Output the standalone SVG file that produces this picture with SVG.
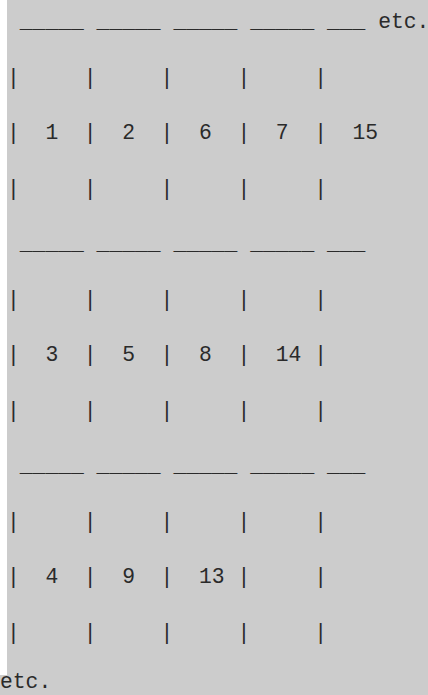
<svg xmlns="http://www.w3.org/2000/svg" width="428" height="695" viewBox="0 0 428 695">
<style>
.t{font-family:"Liberation Mono","Courier New",monospace;font-size:21.33px;fill:#2a2a2a;white-space:pre}
</style>
<rect x="0" y="0" width="428" height="695" fill="#cccccc"/>
<rect x="0" y="0" width="7" height="675" fill="#ffffff"/>
<g id="grid" xml:space="preserve">
<text class="t" x="7" y="28"> _____ _____ _____ _____ ___ etc.</text>
<text class="t" x="7" y="83.5">|     |     |     |     |</text>
<text class="t" x="7" y="139">|  1  |  2  |  6  |  7  |  15</text>
<text class="t" x="7" y="194.5">|     |     |     |     |</text>
<text class="t" x="7" y="250"> _____ _____ _____ _____ ___</text>
<text class="t" x="7" y="305.5">|     |     |     |     |</text>
<text class="t" x="7" y="361">|  3  |  5  |  8  |  14 |</text>
<text class="t" x="7" y="416.5">|     |     |     |     |</text>
<text class="t" x="7" y="472"> _____ _____ _____ _____ ___</text>
<text class="t" x="7" y="527.5">|     |     |     |     |</text>
<text class="t" x="7" y="583">|  4  |  9  |  13 |     |</text>
<text class="t" x="7" y="638.5">|     |     |     |     |</text>
<text class="t" x="0" y="688">etc.</text>
</g>
</svg>
